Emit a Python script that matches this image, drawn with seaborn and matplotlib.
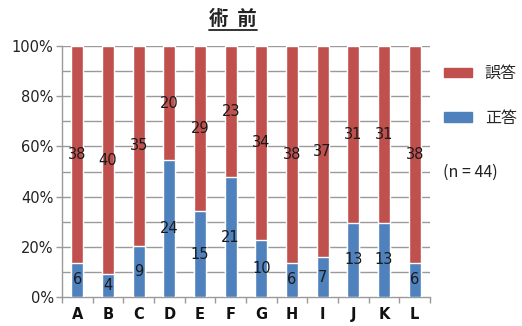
import matplotlib
matplotlib.use("Agg")
import matplotlib.pyplot as plt
import matplotlib.patches as mpatches
import seaborn as sns
import pandas as pd
import numpy as np

categories = ["A", "B", "C", "D", "E", "F", "G", "H", "I", "J", "K", "L"]
correct = [6, 4, 9, 24, 15, 21, 10, 6, 7, 13, 13, 6]
incorrect = [38, 40, 35, 20, 29, 23, 34, 38, 37, 31, 31, 38]
title_text = "術  前"
legend_labels = ["誤答", "正答"]
n_text = "(n = 44)"

RED = "#C0504D"
BLUE = "#4F81BD"

sns.set_theme(style="white")
plt.rcParams['font.family'] = ['Noto Sans CJK JP', 'DejaVu Sans']

df = pd.DataFrame({"cat": categories, "correct": correct, "incorrect": incorrect})
df["total"] = df["correct"] + df["incorrect"]
df["pc"] = df["correct"] / df["total"] * 100
df["pt"] = 100.0

fig = plt.figure(figsize=(5.22, 3.26), dpi=100)
ax = fig.add_axes([62/522, 29/326, 368/522, 251/326])

sns.barplot(data=df, x="cat", y="pt", color=RED, width=0.4, ax=ax,
            saturation=1, zorder=3, order=categories)
sns.barplot(data=df, x="cat", y="pc", color=BLUE, width=0.4, ax=ax,
            saturation=1, zorder=4, order=categories)

for i, row in df.iterrows():
    ax.text(i, row["pc"] / 2, str(row["correct"]), ha="center", va="center",
            fontsize=10.5, color="#1a1a1a", zorder=5, family="DejaVu Sans")
    ax.text(i, row["pc"] + (100 - row["pc"]) / 2, str(row["incorrect"]),
            ha="center", va="center", fontsize=10.5, color="#1a1a1a", zorder=5,
            family="DejaVu Sans")

ax.set_ylim(0, 100)
ax.set_xlim(-0.5, len(categories) - 0.5)
ax.set_yticks(np.arange(0, 101, 20))
ax.set_yticklabels([f"{v}%" for v in range(0, 101, 20)], fontsize=10.5,
                   family="DejaVu Sans", color="#222222")
for y in range(10, 101, 10):
    ax.axhline(y, color="#9a9a9a", lw=1.0, zorder=1)

ax.set_xticks(range(len(categories)))
ax.set_xticklabels(categories, fontsize=10.5, fontweight="bold",
                   family="DejaVu Sans", color="#111111")
ax.set_xticks(np.arange(-0.5, len(categories), 1), minor=True)
ax.tick_params(axis="x", which="major", length=0, pad=7)
ax.tick_params(axis="x", which="minor", length=4, color="#9a9a9a", width=1,
               direction="out", bottom=True)
ax.tick_params(axis="y", which="major", length=4, color="#9a9a9a", width=1,
               direction="out", left=True, pad=2)
ax.set_xlabel("")
ax.set_ylabel("")

for s in ["top", "right"]:
    ax.spines[s].set_visible(False)
for s in ["left", "bottom"]:
    ax.spines[s].set_color("#9a9a9a")
    ax.spines[s].set_linewidth(1.0)

t = fig.text(233/522, 1 - 19/326, title_text, ha="center", va="center",
             fontsize=14, fontweight="bold", color="#222222")
fig.canvas.draw()
bb = t.get_window_extent()
inv = fig.transFigure.inverted()
(x0, y0), (x1, y1) = inv.transform([[bb.x0, bb.y0], [bb.x1, bb.y1]])
fig.add_artist(plt.Line2D([x0, x1], [y0 - 0.004, y0 - 0.004], color="#222222",
                          lw=1.3, transform=fig.transFigure))

handles = [mpatches.Patch(color=RED), mpatches.Patch(color=BLUE)]
leg = fig.legend(handles, legend_labels, loc="upper left",
                 bbox_to_anchor=(444/522, 1 - 65/326), frameon=False,
                 fontsize=11.5, handlelength=1.75, handleheight=0.55,
                 labelspacing=1.75, handletextpad=0.8, borderpad=0,
                 borderaxespad=0)
fig.text(443/522, 1 - 172/326, n_text, ha="left", va="center", fontsize=11.5,
         color="#222222")

fig.savefig("out.png", dpi=100)
